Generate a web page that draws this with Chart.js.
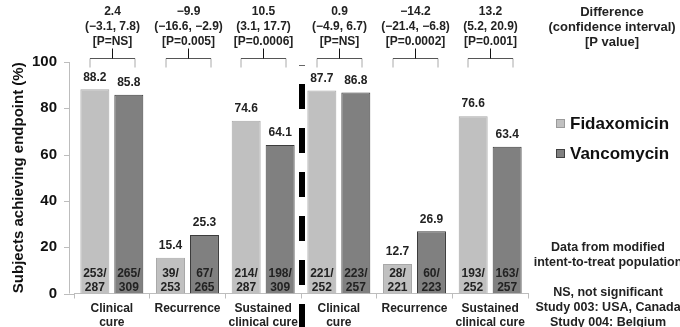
<!DOCTYPE html>
<html>
<head>
<meta charset="utf-8">
<script src="https://cdn.jsdelivr.net/npm/chart.js@4/dist/chart.umd.min.js"></script>
<style>
  html, body { margin: 0; padding: 0; background: #fff; }
  canvas { display: block; }
</style>
</head>
<body>
<canvas id="c" width="680" height="327"></canvas>
<script>
// Endpoint categories (Study 003 on the left, Study 004 on the right)
const categories = [
  ['Clinical', 'cure'], 'Recurrence', ['Sustained', 'clinical cure'],
  ['Clinical', 'cure'], 'Recurrence', ['Sustained', 'clinical cure']
];
const fidaxomicin = [88.2, 15.4, 74.6, 87.7, 12.7, 76.6];
const vancomycin  = [85.8, 25.3, 64.1, 86.8, 26.9, 63.4];
const fidaxomicinCounts = [['253/', '287'], ['39/', '253'], ['214/', '287'], ['221/', '252'], ['28/', '221'], ['193/', '252']];
const vancomycinCounts  = [['265/', '309'], ['67/', '265'], ['198/', '309'], ['223/', '257'], ['60/', '223'], ['163/', '257']];
const differences = ['2.4', '\u22129.9', '10.5', '0.9', '\u221214.2', '13.2'];
const intervals = ['(\u22123.1, 7.8)', '(\u221216.6, \u22122.9)', '(3.1, 17.7)', '(\u22124.9, 6.7)', '(\u221221.4, \u22126.8)', '(5.2, 20.9)'];
const pValues = ['[P=NS]', '[P=0.005]', '[P=0.0006]', '[P=NS]', '[P=0.0002]', '[P=0.001]'];
const yTicks = [0, 20, 40, 60, 80, 100];
const seriesNames = ['Fidaxomicin', 'Vancomycin'];
const keyLines = ['Difference', '(confidence interval)', '[P value]'];
const noteLines = ['Data from modified', 'intent-to-treat population', '', 'NS, not significant', 'Study 003: USA, Canada', 'Study 004: Belgium'];

const FONT = "Arial, 'Liberation Sans', Helvetica, sans-serif";
const FIDAX_FILL = '#c0c0c0', FIDAX_EDGE = '#a8a8a8';
const VANCO_FILL = '#808080', VANCO_EDGE = '#3c3c3c';
const TEXT = '#222';
const AXIS = '#bdbdbd';

const decorations = {
  id: 'decorations',
  afterDatasetsDraw(chart) {
    const ctx = chart.ctx;
    const xs = chart.scales.x, ys = chart.scales.y;
    const area = chart.chartArea;
    const axisX = area.left - 5;
    ctx.save();

    // y axis line with outward tick marks
    ctx.strokeStyle = AXIS;
    ctx.lineWidth = 1;
    ctx.beginPath();
    ctx.moveTo(axisX + 0.5, ys.getPixelForValue(100));
    ctx.lineTo(axisX + 0.5, area.bottom);
    yTicks.forEach(v => {
      const py = Math.round(ys.getPixelForValue(v)) + 0.5;
      ctx.moveTo(axisX - 5, py);
      ctx.lineTo(axisX + 0.5, py);
    });
    ctx.moveTo(axisX, Math.round(area.bottom) + 0.5);
    ctx.lineTo(area.left, Math.round(area.bottom) + 0.5);
    ctx.stroke();

    // values above bars and counts inside bars
    ctx.fillStyle = TEXT;
    ctx.textAlign = 'center';
    ctx.textBaseline = 'middle';
    ctx.font = 'bold 12px ' + FONT;
    const counts = [fidaxomicinCounts, vancomycinCounts];
    [fidaxomicin, vancomycin].forEach((vals, d) => {
      const meta = chart.getDatasetMeta(d);
      meta.data.forEach((bar, j) => {
        ctx.fillText(vals[j].toFixed(1), bar.x, bar.y - 12);
        ctx.fillText(counts[d][j][0], bar.x, bar.base - 19.5);
        ctx.fillText(counts[d][j][1], bar.x, bar.base - 5.5);
      });
    });

    // comparison brackets and difference annotations
    const top100 = ys.getPixelForValue(100);
    const bracketY = Math.round(top100 - 4.5) + 0.5;
    categories.forEach((c, j) => {
      const cx = Math.round(xs.getPixelForValue(j)) + 0.5;
      ctx.strokeStyle = '#aaa';
      ctx.beginPath();
      ctx.moveTo(cx - 22.5, bracketY + 9);
      ctx.lineTo(cx - 22.5, bracketY);
      ctx.moveTo(cx + 22.5, bracketY);
      ctx.lineTo(cx + 22.5, bracketY + 9);
      ctx.stroke();
      ctx.strokeStyle = '#555';
      ctx.beginPath();
      ctx.moveTo(cx - 22.5, bracketY);
      ctx.lineTo(cx + 22.5, bracketY);
      ctx.stroke();
      ctx.strokeStyle = '#111';
      ctx.beginPath();
      ctx.moveTo(cx, bracketY);
      ctx.lineTo(cx, bracketY - 10);
      ctx.stroke();

      ctx.fillStyle = TEXT;
      ctx.font = 'bold 12px ' + FONT;
      ctx.fillText(differences[j], cx, 12);
      ctx.fillText(intervals[j], cx, 27);
      ctx.fillText(pValues[j], cx, 42);
    });

    // key to the annotations
    ctx.font = 'bold 13px ' + FONT;
    ctx.fillText(keyLines[0], 612, 12);
    ctx.fillText(keyLines[1], 612, 27);
    ctx.fillText(keyLines[2], 612, 42);

    // dashed divider between the two studies
    const divX = (xs.getPixelForValue(2) + xs.getPixelForValue(3)) / 2 + 1;
    ctx.strokeStyle = '#000';
    ctx.lineWidth = 6;
    ctx.setLineDash([25, 19]);
    ctx.beginPath();
    ctx.moveTo(divX, 84);
    ctx.lineTo(divX, 340);
    ctx.stroke();
    ctx.setLineDash([]);
    ctx.lineWidth = 1;
    ctx.strokeStyle = '#666';
    ctx.beginPath();
    ctx.moveTo(divX - 3, 65.5);
    ctx.lineTo(divX + 3, 65.5);
    ctx.stroke();

    // legend
    const fills = [[FIDAX_FILL, '#9a9a9a'], [VANCO_FILL, '#404040']];
    ctx.textAlign = 'left';
    ctx.font = 'bold 17px ' + FONT;
    seriesNames.forEach((name, i) => {
      const ly = 124 + i * 30;
      ctx.fillStyle = fills[i][0];
      ctx.fillRect(556, ly - 5, 9, 9);
      ctx.strokeStyle = fills[i][1];
      ctx.strokeRect(556.5, ly - 4.5, 8, 8);
      ctx.fillStyle = '#111';
      ctx.fillText(name, 570, ly);
    });

    // notes
    ctx.fillStyle = TEXT;
    ctx.textAlign = 'center';
    ctx.font = 'bold 12.5px ' + FONT;
    noteLines.forEach((t, i) => {
      if (t) ctx.fillText(t, 608, 248 + i * 15);
    });

    ctx.restore();
  }
};

new Chart(document.getElementById('c'), {
  type: 'bar',
  data: {
    labels: categories,
    datasets: [
      { label: seriesNames[0], data: fidaxomicin, backgroundColor: FIDAX_FILL, borderColor: FIDAX_EDGE, borderWidth: 1 },
      { label: seriesNames[1], data: vancomycin, backgroundColor: VANCO_FILL, borderColor: VANCO_EDGE, borderWidth: 1 }
    ]
  },
  options: {
    responsive: false,
    animation: false,
    devicePixelRatio: 1,
    layout: { padding: { left: 10, right: 152, top: 62, bottom: 0 } },
    datasets: { bar: { categoryPercentage: 0.898, barPercentage: 0.853 } },
    plugins: { legend: { display: false }, tooltip: { enabled: false } },
    scales: {
      x: {
        grid: { display: true, drawOnChartArea: false, drawTicks: true, tickLength: 5, color: AXIS, offset: true },
        border: { display: true, color: AXIS },
        ticks: { color: TEXT, font: { family: FONT, size: 12, weight: 'bold' }, padding: 3, maxRotation: 0, autoSkip: false },
        afterFit(scale) { scale.height = 33.5; }
      },
      y: {
        min: 0, max: 100,
        afterBuildTicks(scale) { scale.ticks = yTicks.map(v => ({ value: v })); },
        grid: { display: false },
        border: { display: false },
        ticks: { color: '#111', font: { family: FONT, size: 15, weight: 'bold' }, padding: 9 },
        title: { display: true, text: 'Subjects achieving endpoint (%)', color: '#111', font: { family: FONT, size: 15, weight: 'bold' }, padding: 0 },
        afterFit(scale) { scale.width = 64; }
      }
    }
  },
  plugins: [decorations]
});
</script>
</body>
</html>
